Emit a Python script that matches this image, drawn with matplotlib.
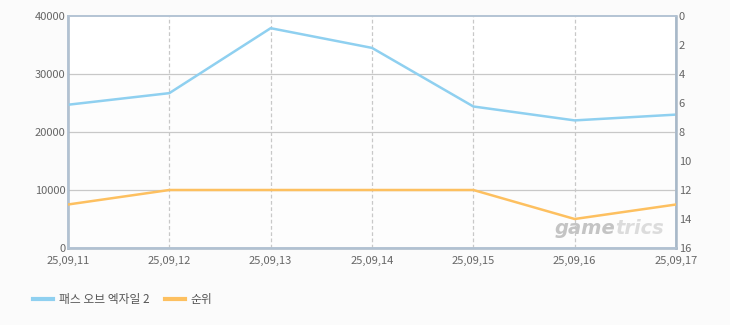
import matplotlib.pyplot as plt
from matplotlib.lines import Line2D

plt.rcParams['font.family'] = ['Noto Sans CJK KR', 'DejaVu Sans']

dates = ["25,09,11", "25,09,12", "25,09,13", "25,09,14", "25,09,15", "25,09,16", "25,09,17"]
players = [24700, 26700, 37900, 34500, 24400, 22000, 23000]
rank = [13, 12, 12, 12, 12, 14, 13]
left_ticks = [0, 10000, 20000, 30000, 40000]
right_ticks = [0, 2, 4, 6, 8, 10, 12, 14, 16]

blue = "#8fd0f0"
orange = "#fdc060"
tick_col = "#666666"

fig = plt.figure(figsize=(7.3, 3.25), dpi=100, facecolor="#fbfbfb")
ax = fig.add_axes([68 / 730, 1 - 248 / 325, 608 / 730, 232 / 325])
ax.set_facecolor("#fdfdfd")
ax.axhspan(30000, 40000, color="white", zorder=0)

x = list(range(len(dates)))
ax.plot(x, players, color=blue, lw=1.8, zorder=3)
ax.set_xlim(0, len(dates) - 1)
ax.set_ylim(0, 40000)
ax.set_yticks(left_ticks)
ax.set_xticks(x)
ax.set_xticklabels(dates)
for v in left_ticks[1:-1]:
    ax.axhline(v, color="#c8c8c8", lw=0.9, zorder=1)
for i in x[1:-1]:
    ax.axvline(i, color="#c8c8c8", lw=0.9, ls=(0, (3, 2)), zorder=1)

ax2 = ax.twinx()
ax2.plot(x, rank, color=orange, lw=1.8, zorder=3)
ax2.set_ylim(16, 0)
ax2.set_yticks(right_ticks)

for a in (ax, ax2):
    a.tick_params(length=0, labelsize=8, colors=tick_col, pad=2)
    for s in a.spines.values():
        s.set_color("#b4c4d4")
        s.set_linewidth(1.2)
ax.tick_params(axis="x", pad=6)
ax.spines["left"].set_linewidth(1.8)
ax.spines["left"].set_color("#a8b8c8")
ax2.spines["right"].set_linewidth(1.8)
ax2.spines["right"].set_color("#a8b8c8")
ax.spines["bottom"].set_color("#a8b8c8")
ax.spines["bottom"].set_linewidth(1.8)

ax.text(0.90, 0.082, "game", transform=ax.transAxes, ha="right", va="center",
        fontsize=14, fontweight="bold", style="italic", color="#c4c4c4",
        family="DejaVu Sans", zorder=2)
ax.text(0.90, 0.082, "trics", transform=ax.transAxes, ha="left", va="center",
        fontsize=14, fontweight="bold", style="italic", color="#dcdcdc",
        family="DejaVu Sans", zorder=2)

handles = [Line2D([], [], color=blue, lw=3), Line2D([], [], color=orange, lw=3)]
fig.legend(handles, ["패스 오브 엑자일 2", "순위"], loc="center left",
           bbox_to_anchor=(22 / 730, 1 - 300 / 325), ncol=2, frameon=False,
           fontsize=8.5, handlelength=1.7, handletextpad=0.5, columnspacing=1.3,
           labelcolor="#555555")

fig.savefig("out.png", dpi=100, facecolor=fig.get_facecolor())
